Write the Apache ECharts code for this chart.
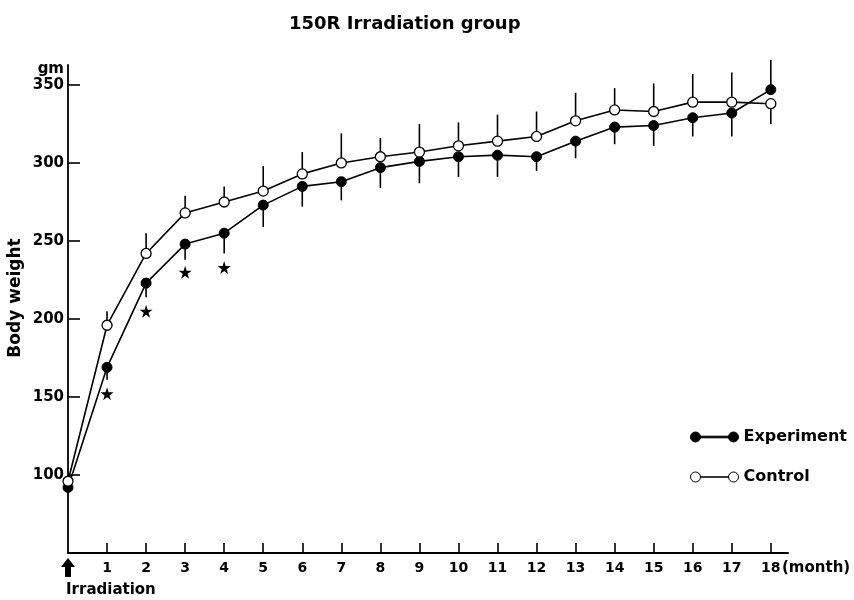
<!DOCTYPE html>
<html>
<head>
<meta charset="utf-8">
<title>150R Irradiation group</title>
<script src="https://cdn.jsdelivr.net/npm/echarts@6/dist/echarts.min.js"></script>
<style>
  html, body { margin: 0; padding: 0; background: #fff; }
  #chart { width: 854px; height: 600px; }
</style>
</head>
<body>
<div id="chart"></div>
<script>
// months after irradiation (0 = day of irradiation)
const months = [0, 1, 2, 3, 4, 5, 6, 7, 8, 9, 10, 11, 12, 13, 14, 15, 16, 17, 18];
const experiment = [92, 169, 223, 248, 255, 273, 285, 288, 297, 301, 304, 305, 304, 314, 323, 324, 329, 332, 347];
const control = [96, 196, 242, 268, 275, 282, 293, 300, 304, 307, 311, 314, 317, 327, 334, 333, 339, 339, 338];
// far end of each error bar (experiment drawn down, control drawn up; swapped at 18)
const experimentBarEnd = [null, 161, 214, 238, 242, 259, 272, 276, 284, 287, 291, 291, 295, 303, 312, 311, 317, 317, 366];
const controlBarEnd = [null, 205, 255, 279, 285, 298, 307, 319, 316, 325, 326, 331, 333, 345, 348, 351, 357, 358, 325];
// significance stars
const starMonths = [1, 2, 3, 4];
const starValues = [152, 205, 230, 233];
const xTicks = months.slice(1);
const yTicks = [100, 150, 200, 250, 300, 350];

const FONT = 'DejaVu Sans';
const chart = echarts.init(document.getElementById('chart'));

const pairs = (ys) => months.map((m, i) => [m, ys[i]]);
const bars = (means, ends) => months
  .map((m, i) => [m, means[i], ends[i]])
  .filter((d) => d[2] != null);

const errorBar = (params, api) => {
  const x = api.value(0);
  const a = api.coord([x, api.value(1)]);
  const b = api.coord([x, api.value(2)]);
  return {
    type: 'line',
    shape: { x1: a[0], y1: a[1], x2: b[0], y2: b[1] },
    style: { stroke: '#000', lineWidth: 1.6 }
  };
};

const legendIcon = (t) =>
  'path://M0,5A5,5,0,1,1,10,5A5,5,0,1,1,0,5Z' +
  'M10,' + (5 - t) + 'L38,' + (5 - t) + 'L38,' + (5 + t) + 'L10,' + (5 + t) + 'Z' +
  'M38,5A5,5,0,1,1,48,5A5,5,0,1,1,38,5Z';

chart.setOption({
  backgroundColor: '#fff',
  animation: false,
  title: {
    text: '150R Irradiation group',
    left: 284,
    top: 10,
    textStyle: { fontFamily: FONT, fontSize: 18, fontWeight: 'bold', color: '#000' }
  },
  legend: {
    orient: 'vertical',
    left: 690,
    top: 429,
    itemWidth: 48,
    itemHeight: 10,
    itemGap: 24,
    padding: 0,
    selectedMode: false,
    textStyle: { fontFamily: FONT, fontSize: 16, fontWeight: 'bold', color: '#000' },
    data: [
      { name: 'Experiment', icon: legendIcon(0.8),
        itemStyle: { color: '#000', borderColor: '#000', borderWidth: 1 } },
      { name: 'Control', icon: legendIcon(0.2),
        itemStyle: { color: '#fff', borderColor: '#000', borderWidth: 1 } }
    ]
  },
  grid: { left: 68, right: 66, top: 65, bottom: 47, containLabel: false, outerBoundsMode: 'none' },
  xAxis: {
    type: 'value',
    min: 0,
    max: 18.44,
    name: '(month)',
    nameLocation: 'end',
    nameGap: -6,
    nameMoveOverlap: false,
    nameTextStyle: {
      fontFamily: FONT, fontSize: 15, fontWeight: 'bold', color: '#000',
      align: 'left', verticalAlign: 'top', padding: [8, 0, 0, 0]
    },
    axisLine: { onZero: false, lineStyle: { color: '#000', width: 1.8 } },
    axisTick: { inside: true, length: 10, customValues: xTicks, lineStyle: { color: '#000', width: 1.6 } },
    axisLabel: {
      customValues: xTicks,
      hideOverlap: false,
      margin: 8,
      fontFamily: FONT, fontSize: 14, fontWeight: 'bold', color: '#000'
    },
    splitLine: { show: false }
  },
  yAxis: {
    type: 'value',
    min: 50,
    max: 362.8,
    name: 'gm',
    nameLocation: 'end',
    nameGap: -4,
    nameMoveOverlap: false,
    nameTextStyle: {
      fontFamily: FONT, fontSize: 15, fontWeight: 'bold', color: '#000',
      align: 'right', verticalAlign: 'middle', padding: [0, 4, 0, 0]
    },
    axisLine: { onZero: false, lineStyle: { color: '#000', width: 1.8 } },
    axisTick: { inside: true, length: 12, customValues: yTicks, lineStyle: { color: '#000', width: 1.6 } },
    axisLabel: {
      customValues: yTicks,
      margin: 4,
      fontFamily: FONT, fontSize: 15, fontWeight: 'bold', color: '#000'
    },
    splitLine: { show: false }
  },
  graphic: [
    {
      type: 'text',
      x: 16,
      y: 298,
      rotation: Math.PI / 2,
      style: {
        text: 'Body weight',
        fontFamily: FONT, fontSize: 17, fontWeight: 'bold', fill: '#000',
        align: 'center', verticalAlign: 'middle'
      }
    },
    {
      // irradiation arrow under month 0
      type: 'polygon',
      shape: { points: [[68, 558], [75, 567], [71, 567], [71, 577], [65, 577], [65, 567], [61, 567]] },
      style: { fill: '#000' }
    },
    {
      type: 'text',
      x: 66,
      y: 590,
      style: {
        text: 'Irradiation',
        fontFamily: FONT, fontSize: 15, fontWeight: 'bold', fill: '#000',
        align: 'left', verticalAlign: 'middle'
      }
    }
  ],
  series: [
    {
      name: 'Experiment bars',
      type: 'custom',
      clip: false,
      z: 1,
      renderItem: errorBar,
      encode: { x: 0, y: [1, 2] },
      data: bars(experiment, experimentBarEnd)
    },
    {
      name: 'Control bars',
      type: 'custom',
      clip: false,
      z: 1,
      renderItem: errorBar,
      encode: { x: 0, y: [1, 2] },
      data: bars(control, controlBarEnd)
    },
    {
      name: 'Experiment',
      type: 'line',
      z: 3,
      data: pairs(experiment),
      symbol: 'circle',
      symbolSize: 10,
      showAllSymbol: true,
      clip: false,
      lineStyle: { color: '#000', width: 1.6 },
      itemStyle: { color: '#000', borderColor: '#000', borderWidth: 1 }
    },
    {
      name: 'Control',
      type: 'line',
      z: 3,
      data: pairs(control),
      symbol: 'circle',
      symbolSize: 10,
      showAllSymbol: true,
      clip: false,
      lineStyle: { color: '#000', width: 1.6 },
      itemStyle: { color: '#fff', borderColor: '#000', borderWidth: 1.3 }
    },
    {
      name: 'Significant',
      type: 'scatter',
      z: 3,
      symbol: 'path://M50,0L61,35L98,35L68,57L79,91L50,70L21,91L32,57L2,35L39,35Z',
      symbolSize: 13,
      itemStyle: { color: '#000', opacity: 1 },
      data: starMonths.map((m, i) => [m, starValues[i]])
    }
  ]
});
</script>
</body>
</html>
